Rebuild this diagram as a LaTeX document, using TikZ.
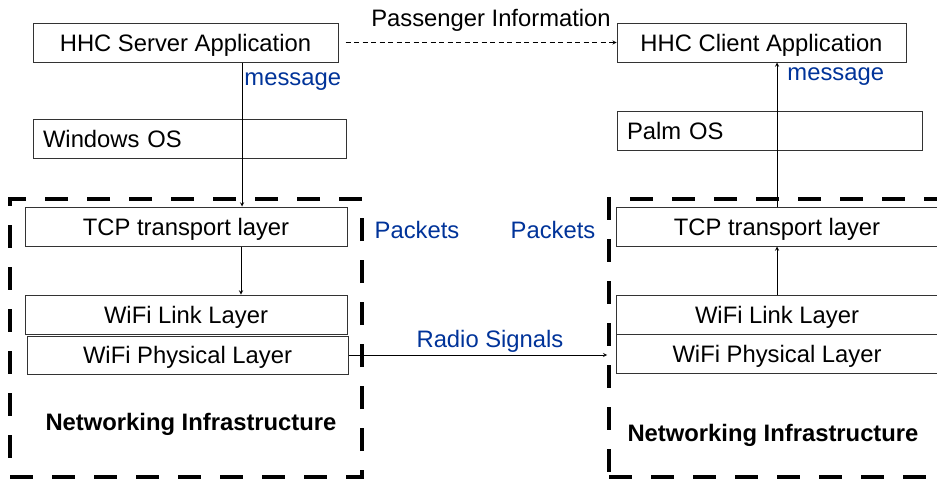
\documentclass[tikz,border=0pt]{standalone}
\usepackage{fontspec}
\setmainfont{Liberation Sans}
\usepackage{xcolor}
\usetikzlibrary{positioning}
\definecolor{lblblue}{RGB}{0,51,153}

\begin{document}
\begin{tikzpicture}[x=1pt, y=-1pt, ->, >=stealth, line width=0.9pt,
  font=\fontsize{23.8}{28}\selectfont,
  layer/.style={draw=black!80, line width=1pt, rectangle, inner sep=0pt,
    minimum height=39pt, text height=17pt, text depth=0pt},
  osbox/.style={layer, inner xsep=10pt, align=left},
  infra/.style={draw, line width=3.6pt, dash pattern=on 23pt off 19pt, inner sep=0pt},
  lbl/.style={text=lblblue, inner sep=0pt}]
  \useasboundingbox (0,0) rectangle (937,480);

  % networking boxes
  \node[infra, minimum width=352pt, minimum height=278pt] (infL) at (186,338) {};
  \node[infra, minimum width=345pt, minimum height=278pt] (infR) at (781.5,338) {};

  % server side
  \node[layer, minimum width=305pt] (srv) at (185.5,42.5) {HHC Server Application};
  \node[osbox, text width=293pt] (win) at (189.5,138.5) {Windows OS};
  \node[layer, minimum width=322pt] (tcpL) at (186,226.5) {TCP transport layer};
  \node[layer, minimum width=322pt] (linkL) at (186,314.5) {WiFi Link Layer};
  \node[layer, minimum width=321pt, minimum height=38pt] (physL) at (187.5,355) {WiFi Physical Layer};
  \node[inner sep=0pt, font=\fontsize{23.8}{28}\selectfont\bfseries] (netL) at (191,424) {Networking Infrastructure};

  % client side
  \node[layer, minimum width=289pt] (cli) at (761.5,42.5) {HHC Client Application};
  \node[osbox, text width=285pt] (palm) at (769.5,130.5) {Palm OS};
  \node[layer, minimum width=322pt] (tcpR) at (777,226.5) {TCP transport layer};
  \node[layer, minimum width=322pt] (linkR) at (777,314.5) {WiFi Link Layer};
  \node[layer, minimum width=322pt] (physR) at (777,353.5) {WiFi Physical Layer};
  \node[inner sep=0pt, font=\fontsize{23.8}{28}\selectfont\bfseries] (netR) at (773,435) {Networking Infrastructure};

  % labels
  \node[inner sep=0pt] (pass) at (491,20) {Passenger Information};
  \node[lbl, anchor=west] (msgL) at (244,82) {message};
  \node[lbl, anchor=west] (msgR) at (787,77) {message};
  \node[lbl] (pktL) at (417,230) {Packets};
  \node[lbl] (pktR) at (553,230) {Packets};
  \node[lbl] (radio) at (490,341) {Radio Signals};

  % arrows
  \draw[line width=0.8pt, dash pattern=on 5pt off 3.5pt, shorten <=7pt] (srv.east) -- (cli.west);
  \draw ([xshift=56.5pt]srv.south) -- ([xshift=56.5pt]srv.south |- tcpL.north);
  \draw ([xshift=55pt]tcpL.south) -- ([xshift=55pt]linkL.north);
  \draw (physL.east) -- (physL.east -| infR.west);
  \draw (linkR.north) -- (tcpR.south);
  \draw (tcpR.north) -- (tcpR.north |- cli.south);
\end{tikzpicture}
\end{document}
